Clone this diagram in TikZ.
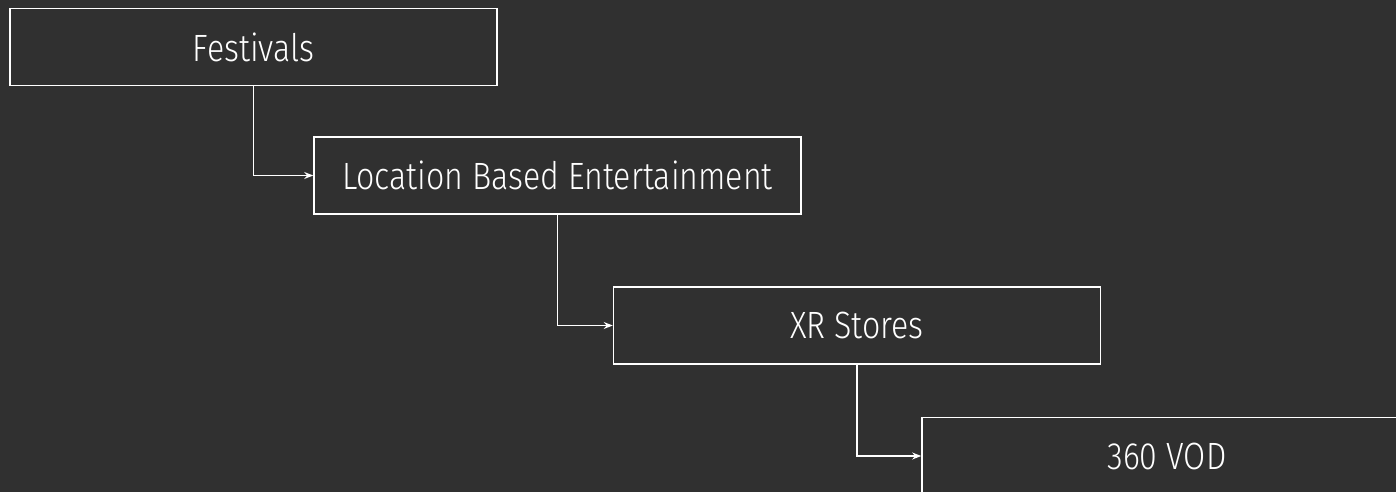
\documentclass[tikz,border=0pt]{standalone}
\usepackage{fontspec}
\setmainfont{Fira Sans}[UprightFont={* Light}, FakeStretch=0.845]
\usetikzlibrary{arrows.meta}
\definecolor{bg}{HTML}{303030}
\begin{document}
\begin{tikzpicture}[x=1pt,y=-1pt,
  box/.style={draw=white, line width=1.6pt, minimum width=487pt, minimum height=77pt, inner sep=0pt, text=white, font=\fontsize{38}{42}\selectfont},
  conn/.style={draw=white, line width=1.6pt, -{Stealth[length=9pt,width=7pt,inset=3pt]}}]
\fill[bg] (0,0) rectangle (1396,492);
\useasboundingbox (0,0) rectangle (1396,492);
\clip (0,0) rectangle (1396,492);
\node[box] (b1) at (253.5,47) {Festivals};
\node[box] (b2) at (557.5,175.5) {Location Based Entertainment};
\node[box] (b3) at (857,325.5) {XR Stores};
\node[box, minimum width=490pt] (b4) at (1167,456) {360 VOD};
\draw[conn] (b1.south) |- (b2.west);
\draw[conn] (b2.south) |- (b3.west);
\draw[conn] (b3.south) |- (b4.west);
\end{tikzpicture}
\end{document}
